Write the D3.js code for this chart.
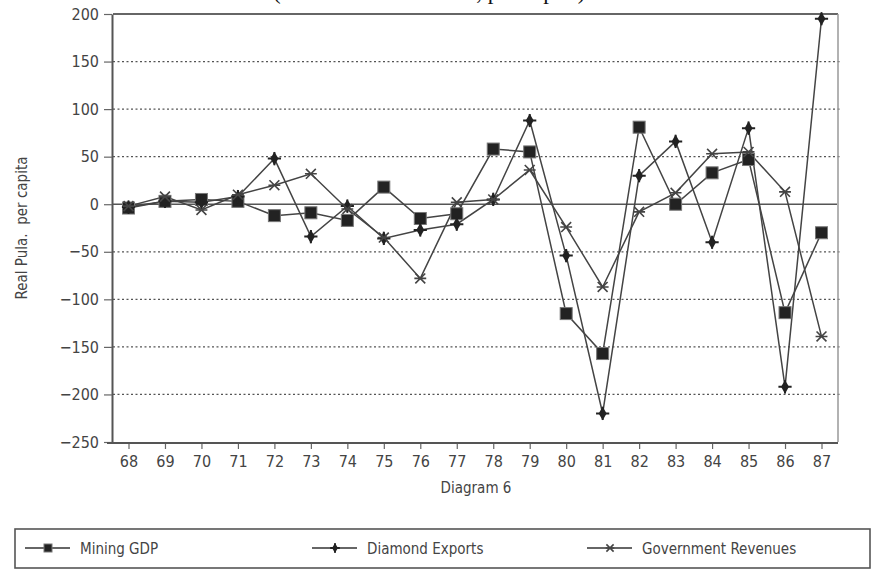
<!DOCTYPE html>
<html>
<head>
<meta charset="utf-8">
<script src="https://cdn.jsdelivr.net/npm/d3@7"></script>
<style>
  body { margin: 0; background: #fff; }
  svg { display: block; }
</style>
</head>
<body>
<div id="chart"></div>
<script>
// data
var years = ["68","69","70","71","72","73","74","75","76","77","78","79","80","81","82","83","84","85","86","87"];
var miningGDP      = [-4, 3, 5, 3, -12, -9, -17, 18, -15, -10, 58, 55, -115, -157, 81, 0, 33, 47, -114, -30];
var diamondExports = [-3, 3, 2, 8, 48, -34, -2, -36, -27, -21, 5, 88, -54, -220, 30, 66, -40, 80, -192, 195];
var govRevenues    = [-2, 8, -6, 10, 20, 32, -5, -35, -78, 2, 5, 36, -24, -87, -8, 12, 53, 55, 13, -139];
var yTicks = [-250, -200, -150, -100, -50, 0, 50, 100, 150, 200];
var seriesNames = ["Mining GDP", "Diamond Exports", "Government Revenues"];

var W = 872, H = 571;
var plot = {left: 113, right: 837, top: 14, bottom: 442};
var font = "'DejaVu Sans Condensed', 'DejaVu Sans', sans-serif";

var svg = d3.select("#chart").append("svg")
    .attr("width", W)
    .attr("height", H);

// scales
var x = d3.scalePoint()
    .domain(years)
    .range([plot.left, plot.right])
    .padding(0.425);
var y = d3.scaleLinear()
    .domain([-250, 200])
    .range([plot.bottom, plot.top]);

// title, only its lowest part shows at the top edge (as in the scan)
svg.append("text")
    .attr("x", 273)
    .attr("y", -1)
    .style("font", "23px 'Liberation Serif', 'Times New Roman', serif")
    .style("fill", "#111")
    .text("(Constant 1985 Prices, per capita)");

// dotted grid lines
svg.append("g")
  .selectAll("line")
  .data(yTicks.filter(function(d){ return d != 0 && d != -250 && d != 200; }))
  .enter().append("line")
    .attr("x1", plot.left).attr("x2", plot.right + 3)
    .attr("y1", function(d){ return y(d); })
    .attr("y2", function(d){ return y(d); })
    .style("stroke", "#555")
    .style("stroke-width", 1.3)
    .style("stroke-dasharray", "2,2.5");

// zero line
svg.append("line")
    .attr("x1", plot.left).attr("x2", plot.right)
    .attr("y1", y(0)).attr("y2", y(0))
    .style("stroke", "#555").style("stroke-width", 1.5);

// frame top and right
svg.append("line")
    .attr("x1", plot.left).attr("x2", plot.right + 1)
    .attr("y1", y(200)).attr("y2", y(200))
    .style("stroke", "#666").style("stroke-width", 2);
svg.append("line")
    .attr("x1", plot.right + 1).attr("x2", plot.right + 1)
    .attr("y1", y(200)).attr("y2", y(-250))
    .style("stroke", "#999").style("stroke-width", 1.5);

// Y axis
var yAxis = svg.append("g")
    .attr("transform", "translate(" + (plot.left - 1) + ",0)")
    .call(d3.axisLeft(y).tickValues(yTicks).tickSize(8).tickSizeOuter(0).tickPadding(5)
      .tickFormat(function(d){ return d < 0 ? "\u2212" + Math.abs(d) : d; }));
yAxis.select(".domain").style("stroke", "#555").style("stroke-width", 2);
yAxis.selectAll(".tick line").style("stroke", "#666").style("stroke-width", 1.2);
yAxis.selectAll("text")
    .style("font-family", font).style("font-size", "16px").style("fill", "#444");

// X axis
var xAxis = svg.append("g")
    .attr("transform", "translate(0," + (plot.bottom + 1) + ")")
    .call(d3.axisBottom(x).tickSize(6).tickSizeOuter(0).tickPadding(7));
xAxis.select(".domain").remove();
xAxis.append("line")
    .attr("x1", plot.left - 6).attr("x2", plot.right + 1)
    .attr("y1", 0).attr("y2", 0)
    .style("stroke", "#555").style("stroke-width", 2);
xAxis.selectAll(".tick line").style("stroke", "#666").style("stroke-width", 1.2);
xAxis.selectAll("text")
    .style("font-family", font).style("font-size", "16px").style("fill", "#444");

// axis titles
svg.append("text")
    .attr("transform", "translate(27," + 228 + ")rotate(-90)")
    .attr("text-anchor", "middle")
    .style("font-family", font).style("font-size", "15px").style("fill", "#444")
    .style("white-space", "pre")
    .text("Real Pula.  per capita");
svg.append("text")
    .attr("x", 476).attr("y", 493)
    .attr("text-anchor", "middle")
    .style("font-family", font).style("font-size", "15px").style("fill", "#444")
    .text("Diagram 6");

// marker drawing
function drawMarker(g, kind, s) {
  if (kind == 0) {
    g.append("rect")
      .attr("x", -s/2).attr("y", -s/2).attr("width", s).attr("height", s)
      .style("fill", "#222").style("stroke", "#777").style("stroke-width", 1);
  } else if (kind == 1) {
    g.append("path")
      .attr("d", d3.symbol().type(d3.symbolDiamond).size(s * s * 0.45))
      .style("fill", "#222");
    g.append("path")
      .attr("d", "M" + (-s*0.6) + ",0H" + (s*0.6) + "M0," + (-s*0.6) + "V" + (s*0.6))
      .style("stroke", "#222").style("stroke-width", 2);
  } else {
    var r = s * 0.45;
    g.append("path")
      .attr("d", "M" + (-r) + "," + (-r) + "L" + r + "," + r +
                 "M" + (-r) + "," + r + "L" + r + "," + (-r) +
                 "M" + (-r*1.2) + ",0H" + (r*1.2))
      .style("stroke", "#444").style("stroke-width", 1.6).style("fill", "none");
  }
}

var allSeries = [miningGDP, diamondExports, govRevenues];
var line = d3.line()
    .x(function(d, i){ return x(years[i]); })
    .y(function(d){ return y(d); });

allSeries.forEach(function(vals, k) {
  svg.append("path")
    .datum(vals)
    .attr("d", line)
    .style("fill", "none")
    .style("stroke", "#444")
    .style("stroke-width", 1.5);
});
allSeries.forEach(function(vals, k) {
  svg.append("g")
    .selectAll("g")
    .data(vals)
    .enter().append("g")
      .attr("transform", function(d, i){ return "translate(" + x(years[i]) + "," + y(d) + ")"; })
      .each(function(){ drawMarker(d3.select(this), k, k == 0 ? 12 : 11); });
});

// legend box
var leg = svg.append("g");
leg.append("rect")
    .attr("x", 15).attr("y", 529).attr("width", 855).attr("height", 39)
    .style("fill", "none").style("stroke", "#555").style("stroke-width", 1.6);
var legX = [25, 312, 587];
seriesNames.forEach(function(name, k) {
  var g = leg.append("g").attr("transform", "translate(" + legX[k] + ",548)");
  g.append("line")
    .attr("x1", 0).attr("x2", 45).attr("y1", 0).attr("y2", 0)
    .style("stroke", "#333").style("stroke-width", 1.5);
  var m = g.append("g").attr("transform", "translate(23,0)");
  drawMarker(m, k, 8);
  g.append("text")
    .attr("x", 55).attr("y", 6)
    .style("font-family", font).style("font-size", "15px").style("fill", "#444")
    .text(name);
});
</script>
</body>
</html>
